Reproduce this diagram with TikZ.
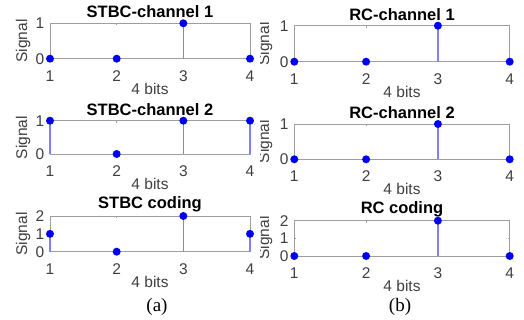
\documentclass[tikz,border=0pt]{standalone}
\usepackage{fontspec}
\setmainfont{Liberation Sans}
\newfontfamily\capfont{Liberation Serif}
\definecolor{axgray}{rgb}{0.62,0.62,0.62}
\definecolor{txtgray}{rgb}{0.25,0.25,0.25}
\definecolor{stemblue}{rgb}{0.5,0.5,1}
\definecolor{dotblue}{rgb}{0,0,0.95}
\tikzset{
  axisbox/.style={draw=axgray,line width=0.8pt},
  tickmark/.style={draw=axgray,line width=0.6pt},
  titletext/.style={font=\fontsize{16.5}{18}\selectfont\bfseries,text=black,inner sep=0pt},
  ticktext/.style={font=\fontsize{15.5}{17}\selectfont,text=txtgray,inner sep=0pt},
  labeltext/.style={font=\fontsize{15.5}{17}\selectfont,text=txtgray,inner sep=0pt},
  stemline/.style={draw=stemblue,line width=1.6pt},
  dotc/.style={fill=dotblue},
  captext/.style={font=\capfont\fontsize{19}{21}\selectfont,text=black,inner sep=0pt}
}
\newcommand{\stempanel}[8]{%
  % #1 name, #2 x left, #3 x right, #4 y top, #5 y bottom, #6 ymax, #7 title, #8 values
  \draw[axisbox] (#2,#4) rectangle (#3,#5);
  \node[titletext] (#1-title) at ({(#2+#3)/2},{#4-11.5}) {#7};
  \node[labeltext] (#1-xlabel) at ({(#2+#3)/2},{#5+30}) {4 bits};
  \foreach \i in {1,...,4} {
    \pgfmathsetmacro\xx{#2+(\i-1)*(#3-#2)/3}
    \node[ticktext] (#1-xt\i) at (\xx,{#5+17}) {\i};
    \draw[tickmark] (\xx,#5) -- ++(0,-2);
    \draw[tickmark] (\xx,#4) -- ++(0,2);
  }
  \foreach \k in {0,...,#6} {
    \pgfmathsetmacro\yy{#5-\k*(#5-#4)/#6}
    \node[ticktext] (#1-yt\k) at ({#2-10},\yy) {\k};
    \draw[tickmark] (#2,\yy) -- ++(2,0);
    \draw[tickmark] (#3,\yy) -- ++(-2,0);
  }
  \foreach \v [count=\i] in {#8} {
    \pgfmathsetmacro\xx{#2+(\i-1)*(#3-#2)/3}
    \pgfmathsetmacro\yy{#5-\v*(#5-#4)/#6}
    \draw[stemline] (\xx,#5) -- (\xx,\yy);
    \fill[dotc] (\xx,\yy) circle (4pt);
  }
}
\begin{document}
\begin{tikzpicture}[x=1pt,y=-1pt]
\useasboundingbox (0,0) rectangle (524,320);
\fill[white] (0,0) rectangle (524,320);
% left column
\stempanel{la}{50}{250}{23.3}{58.7}{1}{STBC-channel 1}{0,0,1,0}
\stempanel{lb}{50}{250}{120.7}{154}{1}{STBC-channel 2}{1,0,1,1}
\stempanel{lc}{50}{250}{216}{251.7}{2}{STBC coding}{1,0,2,1}
\foreach \n/\y in {la/41,lb/137.5,lc/234} {
  \node[labeltext,rotate=90] (\n-ylabel) at (23,\y) {Signal};
}
% right column
\stempanel{ra}{294.3}{509.7}{25.7}{61.7}{1}{RC-channel 1}{0,0,1,0}
\stempanel{rb}{294.3}{509.7}{124}{159.3}{1}{RC-channel 2}{0,0,1,0}
\stempanel{rc}{294.3}{509.7}{220.7}{256}{2}{RC coding}{0,0,2,0}
\begin{scope}
  \clip (260,0) rectangle (280,320);
  \foreach \n/\y in {ra/44,rb/141.5,rc/238} {
    \node[labeltext,rotate=90] (\n-ylabel) at (265,\y) {Signal};
  }
\end{scope}
\node[captext] (capa) at (157,307) {(a)};
\node[captext] (capb) at (400,307) {(b)};
\end{tikzpicture}
\end{document}
